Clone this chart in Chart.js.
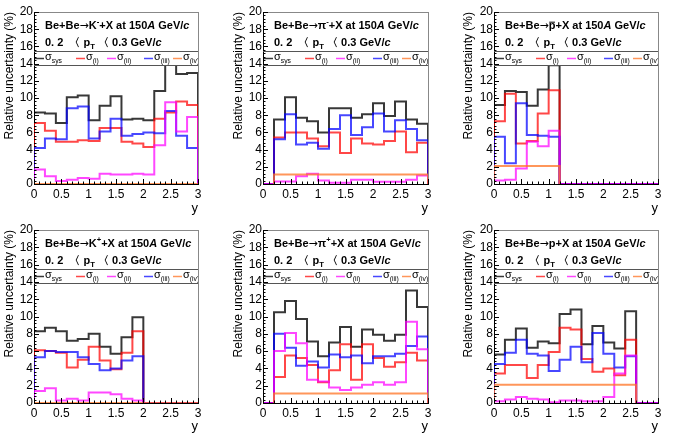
<!DOCTYPE html>
<html><head><meta charset="utf-8">
<script src="https://cdn.jsdelivr.net/npm/chart.js@4.4.1/dist/chart.umd.min.js"></script>
<style>
html,body{margin:0;padding:0;background:#fff;width:685px;height:436px;overflow:hidden;position:relative}
canvas{position:absolute}
</style></head><body>
<script>
// ---- bin edges of rapidity y ----
const binEdges = [0,0.2,0.4,0.6,0.8,1.0,1.2,1.4,1.6,1.8,2.0,2.2,2.4,2.6,2.8,3.0];
const yTicks = [0,2,4,6,8,10,12,14,16,18,20];
const xTicks = [0,0.5,1,1.5,2,2.5,3];
const seriesNames = ['sys','(i)','(ii)','(iii)','(iv)'];

// ---- Be+Be -> K- + X ----
const kmSys  = [8.3,8.2,7.1,10.1,10.3,7.4,9.1,10.2,7.5,7.6,7.4,10.8,15.0,12.8,12.9];
const kmI    = [7.1,6.2,4.9,4.9,5.1,5.0,6.5,6.5,4.9,4.7,4.3,7.6,8.3,9.6,9.2];
const kmII   = [1.7,0.9,0.35,0.5,0.7,0.6,1.2,1.1,1.1,1.2,1.1,4.5,9.5,6.1,7.8];
const kmIII  = [4.2,5.3,5.2,8.8,9.0,5.3,6.1,7.6,5.6,5.8,6.0,5.9,8.5,5.6,4.2];
const kmIV   = [0,0,0,0,0,0,0,0,0,0,0,0,0,0,0];
// ---- Be+Be -> pi- + X ----
const pimSys = [0,7.5,10.1,7.7,7.3,6.0,8.8,8.8,7.7,8.1,9.4,7.9,9.6,7.5,7.0];
const pimI   = [0,5.4,6.0,6.0,5.3,4.4,6.0,3.6,5.3,4.7,4.6,5.0,6.1,3.7,4.8];
const pimII  = [0,0.3,0.3,0.9,1.2,0.4,0.15,0.15,0.5,0.5,0.25,0.25,0.25,0.5,1.0];
const pimIII = [0,5.2,8.1,4.6,4.8,4.1,6.4,8.0,5.7,6.6,8.2,6.1,7.4,6.4,5.1];
const pimIV  = [null,1.1,1.1,1.1,1.1,1.1,1.1,1.1,1.1,1.1,1.1,1.1,1.1,1.1,1.1];
// ---- Be+Be -> pbar + X ----
const pbSys  = [9.2,10.8,10.7,9.1,11.0,13.8,0,0,0,0,0,0,0,0,0];
const pbI    = [7.3,10.5,4.7,5.0,8.2,10.9,0,0,0,0,0,0,0,0,0];
const pbII   = [0.4,0.5,1.8,4.9,4.4,6.2,0,0,0,0,0,0,0,0,0];
const pbIII  = [5.5,2.4,9.4,5.7,5.6,5.5,0,0,0,0,0,0,0,0,0];
const pbIV   = [2.1,2.1,2.1,2.1,2.1,2.1,null,null,null,null,null,null,null,null,null];
// ---- Be+Be -> K+ + X ----
const kpSys  = [8.3,8.7,8.3,7.2,7.4,8.0,6.5,5.7,7.6,9.9,0,0,0,0,0];
const kpI    = [6.1,6.0,5.8,4.1,5.0,6.5,4.9,3.9,5.8,8.3,0,0,0,0,0];
const kpII   = [1.4,1.7,0.3,0.5,0.3,1.2,1.2,1.0,0.5,0.3,0,0,0,0,0];
const kpIII  = [5.3,6.0,5.9,5.9,5.3,4.5,3.8,4.0,4.9,5.4,0,0,0,0,0];
const kpIV   = [0,0,0,0,0,0,0,0,0,0,0,0,0,0,0];
// ---- Be+Be -> pi+ + X ----
const pipSys = [0,10.5,11.8,9.7,7.1,5.4,7.0,8.8,6.5,8.5,7.9,7.2,7.9,13.0,11.1];
const pipI   = [0,3.0,5.5,5.2,4.4,2.4,3.8,6.8,2.7,6.8,5.2,4.2,4.7,5.8,4.9];
const pipII  = [0,6.0,8.1,6.9,2.7,2.5,1.8,1.5,1.8,2.1,2.4,2.1,2.4,9.4,6.2];
const pipIII = [0,8.0,6.4,4.3,4.8,4.1,5.6,5.3,5.5,4.6,5.4,5.4,5.7,6.6,7.7];
const pipIV  = [null,1.1,1.1,1.1,1.1,1.1,1.1,1.1,1.1,1.1,1.1,1.1,1.1,1.1,1.1];
// ---- Be+Be -> p + X ----
const pSys   = [5.6,7.3,8.6,6.4,7.1,6.9,10.3,10.8,6.8,8.9,7.0,6.3,10.6,0,0];
const pI     = [3.4,4.4,4.4,2.9,4.4,5.9,8.7,8.5,5.1,3.6,4.0,3.2,7.3,0,0];
const pII    = [0.2,0.4,0.7,0.5,0.4,0.1,0.3,0.3,0.2,0.2,0.7,3.4,5.5,0,0];
const pIII   = [4.5,5.8,7.3,5.7,5.5,3.7,5.0,6.5,4.7,8.1,5.7,4.1,5.4,0,0];
const pIV    = [2.1,2.1,2.1,2.1,2.1,2.1,2.1,2.1,2.1,2.1,2.1,2.1,2.1,null,null];

const colors = ['rgba(0,0,0,0.78)','rgba(255,0,0,0.72)','rgba(255,0,255,0.72)','rgba(0,0,255,0.72)','rgba(255,115,35,0.75)'];
const drawOrder = [4,3,1,2,0]; // lower = on top

const FONT = '"Liberation Sans", Arial, Helvetica, sans-serif';
const ARROW_FONT = '"DejaVu Sans", sans-serif';

const panels = [
  {left:0,  top:0,   w:228, h:218, pl:34, pr:198, pt:12, pb:184, tpad:2,
   head:[{t:'Be+Be'},{t:'→',fam:ARROW_FONT},{t:'K'},{t:'-',sup:1},{t:'+X at 150'},{t:'A',i:1},{t:' GeV/'},{t:'c',i:1}],
   data:[kmSys,kmI,kmII,kmIII,kmIV]},
  {left:228,top:0,   w:228, h:218, pl:35, pr:200, pt:12, pb:184, tpad:3.5,
   head:[{t:'Be+Be'},{t:'→',fam:ARROW_FONT},{t:'π'},{t:'-',sup:1},{t:'+X at 150'},{t:'A',i:1},{t:' GeV/'},{t:'c',i:1}],
   data:[pimSys,pimI,pimII,pimIII,pimIV]},
  {left:456,top:0,   w:229, h:218, pl:38, pr:202, pt:12, pb:184, tpad:5.5,
   head:[{t:'Be+Be'},{t:'→',fam:ARROW_FONT},{t:'p',over:1},{t:'+X at 150'},{t:'A',i:1},{t:' GeV/'},{t:'c',i:1}],
   data:[pbSys,pbI,pbII,pbIII,pbIV]},
  {left:0,  top:218, w:228, h:218, pl:34, pr:198, pt:12, pb:185, tpad:2,
   head:[{t:'Be+Be'},{t:'→',fam:ARROW_FONT},{t:'K'},{t:'+',sup:1},{t:'+X at 150'},{t:'A',i:1},{t:' GeV/'},{t:'c',i:1}],
   data:[kpSys,kpI,kpII,kpIII,kpIV]},
  {left:228,top:218, w:228, h:218, pl:35, pr:200, pt:12, pb:185, tpad:3.5,
   head:[{t:'Be+Be'},{t:'→',fam:ARROW_FONT},{t:'π'},{t:'+',sup:1},{t:'+X at 150'},{t:'A',i:1},{t:' GeV/'},{t:'c',i:1}],
   data:[pipSys,pipI,pipII,pipIII,pipIV]},
  {left:456,top:218, w:229, h:218, pl:38, pr:202, pt:12, pb:185, tpad:5.5,
   head:[{t:'Be+Be'},{t:'→',fam:ARROW_FONT},{t:'p+X at 150'},{t:'A',i:1},{t:' GeV/'},{t:'c',i:1}],
   data:[pSys,pI,pII,pIII,pIV]}
];
const ptLine = [{t:'0. 2  〈 p'},{t:'T',sub:1},{t:' 〈 0.3 GeV/'},{t:'c',i:1}];

function histPoints(vals) {
  const pts = [];
  let open = false;
  for (let k = 0; k < vals.length; k++) {
    const v = vals[k];
    if (v === null) {
      if (open) {
        pts.push({x: binEdges[k], y: vals[k-1]}, {x: binEdges[k], y: 0}, {x: binEdges[k], y: null});
        open = false;
      }
      continue;
    }
    if (!open) { pts.push({x: binEdges[k], y: 0}); open = true; }
    pts.push({x: binEdges[k], y: v});
  }
  if (open) {
    const n = vals.length;
    pts.push({x: binEdges[n], y: vals[n-1]}, {x: binEdges[n], y: 0});
  }
  return pts;
}

function drawRich(ctx, x, y, segs, size, bold, subScale) {
  ctx.textAlign = 'left';
  ctx.textBaseline = 'alphabetic';
  const ss = subScale || 0.7;
  for (const s of segs) {
    let fs = size, dy = 0;
    if (s.sup) { fs = size * 0.7; dy = -size * 0.42; }
    if (s.sub) { fs = size * ss; dy = size * 0.28; }
    ctx.font = (s.i ? 'italic ' : '') + (bold && !s.fam ? 'bold ' : '') + fs + 'px ' + (s.fam || FONT);
    ctx.fillText(s.t, x, y + dy);
    const w = ctx.measureText(s.t).width;
    if (s.over) {
      ctx.save(); ctx.lineWidth = 1; ctx.strokeStyle = '#000';
      ctx.beginPath(); ctx.moveTo(x + 0.5, y - size * 0.62); ctx.lineTo(x + w - 0.5, y - size * 0.62); ctx.stroke();
      ctx.restore();
    }
    x += w;
  }
  return x;
}

const rootFrame = {
  id: 'rootFrame',
  afterDraw(chart) {
    const P = chart.options.plugins.rootFrame;
    const {ctx, chartArea: a, scales} = chart;
    const ys = scales.y, xs = scales.x;
    ctx.save();
    // header pave + legend box (opaque)
    const legTop = Math.round(a.top + 39) + 0.5, legBot = Math.round(a.top + 53) + 0.5;
    ctx.fillStyle = '#fff';
    ctx.fillRect(a.left + 1, a.top, a.right - a.left - 1, legBot - a.top);
    ctx.strokeStyle = '#555'; ctx.lineWidth = 1;
    ctx.beginPath();
    ctx.moveTo(a.left, legTop); ctx.lineTo(a.right, legTop);
    ctx.moveTo(a.left, legBot); ctx.lineTo(a.right, legBot);
    ctx.stroke();
    ctx.fillStyle = '#000';
    drawRich(ctx, a.left + 11, a.top + 17, P.head, 11, true);
    drawRich(ctx, a.left + 11, a.top + 34, ptLine, 11, true);
    // legend entries
    const offs = [1, 42, 73, 110, 139];
    const ly = Math.round(a.top + 46) + 0.5;
    for (let k = 0; k < 5; k++) {
      const x0 = a.left + offs[k];
      ctx.strokeStyle = colors[k]; ctx.lineWidth = 1.5;
      ctx.beginPath(); ctx.moveTo(x0, ly); ctx.lineTo(x0 + 9, ly); ctx.stroke();
      ctx.fillStyle = '#000';
      drawRich(ctx, x0 + 10, a.top + 48, [{t:'σ'},{t:seriesNames[k],sub:1}], 11, false, 0.62);
    }
    // frame top/right
    ctx.strokeStyle = '#888'; ctx.lineWidth = 1;
    ctx.beginPath();
    ctx.moveTo(a.left, a.top + 0.5); ctx.lineTo(a.right + 0.5, a.top + 0.5);
    ctx.moveTo(a.right + 0.5, a.top); ctx.lineTo(a.right + 0.5, a.bottom);
    ctx.stroke();
    // inner ticks
    ctx.strokeStyle = '#000'; ctx.lineWidth = 1;
    ctx.beginPath();
    for (let i = 0; i <= 50; i++) {
      const v = i * 0.4;
      const py = Math.round(ys.getPixelForValue(v)) + 0.5;
      const len = (i % 5 === 0) ? 5 : 2.5;
      ctx.moveTo(a.left, py); ctx.lineTo(a.left + len, py);
    }
    for (let i = 0; i <= 30; i++) {
      const v = i * 0.1;
      const px = Math.round(xs.getPixelForValue(v)) + 0.5;
      const len = (i % 5 === 0) ? 5 : 2.5;
      ctx.moveTo(px, a.bottom); ctx.lineTo(px, a.bottom - len);
    }
    ctx.stroke();
    ctx.restore();
  }
};

Chart.defaults.font.family = FONT;
Chart.defaults.color = '#000';

panels.forEach((p, idx) => {
  const cv = document.createElement('canvas');
  cv.width = p.w; cv.height = p.h;
  cv.style.left = p.left + 'px'; cv.style.top = p.top + 'px';
  cv.style.width = p.w + 'px'; cv.style.height = p.h + 'px';
  document.body.appendChild(cv);
  const datasets = p.data.map((vals, k) => ({
    label: 'σ' + seriesNames[k],
    data: histPoints(vals),
    borderColor: colors[k],
    borderWidth: 2,
    pointRadius: 0,
    stepped: 'before',
    fill: false,
    spanGaps: false,
    order: drawOrder[k]
  }));
  new Chart(cv, {
    type: 'line',
    data: { datasets },
    options: {
      responsive: false,
      animation: false,
      devicePixelRatio: 1,
      events: [],
      layout: { padding: { left: 0, top: p.pt, right: p.w - p.pr, bottom: 0 } },
      plugins: { legend: { display: false }, tooltip: { enabled: false }, rootFrame: { head: p.head } },
      scales: {
        x: {
          type: 'linear', min: 0, max: 3,
          afterFit: s => { s.height = p.h - p.pb; },
          afterBuildTicks: s => { s.ticks = xTicks.map(v => ({value: v})); },
          grid: { display: false, drawTicks: false },
          border: { display: true, color: '#000', width: 1, z: -1 },
          ticks: { autoSkip: false, maxRotation: 0, padding: 3, font: { size: 12 }, color: '#000',
                   callback: v => String(v) },
          title: { display: true, text: 'y', align: 'end', font: { size: 13 }, padding: { top: 0, bottom: 2 }, color: '#000' }
        },
        y: {
          type: 'linear', min: 0, max: 20,
          afterFit: s => { s.width = p.pl; },
          afterBuildTicks: s => { s.ticks = yTicks.map(v => ({value: v})); },
          grid: { display: false, drawTicks: false },
          border: { display: true, color: '#000', width: 1, z: -1 },
          ticks: { autoSkip: false, padding: 1, font: { size: 12 }, color: '#000', callback: v => String(v) },
          title: { display: true, text: 'Relative uncertainty (%)', align: 'end', font: { size: 12 }, padding: { top: p.tpad, bottom: 0 }, color: '#000' }
        }
      }
    },
    plugins: [rootFrame]
  });
});
</script>
</body></html>
